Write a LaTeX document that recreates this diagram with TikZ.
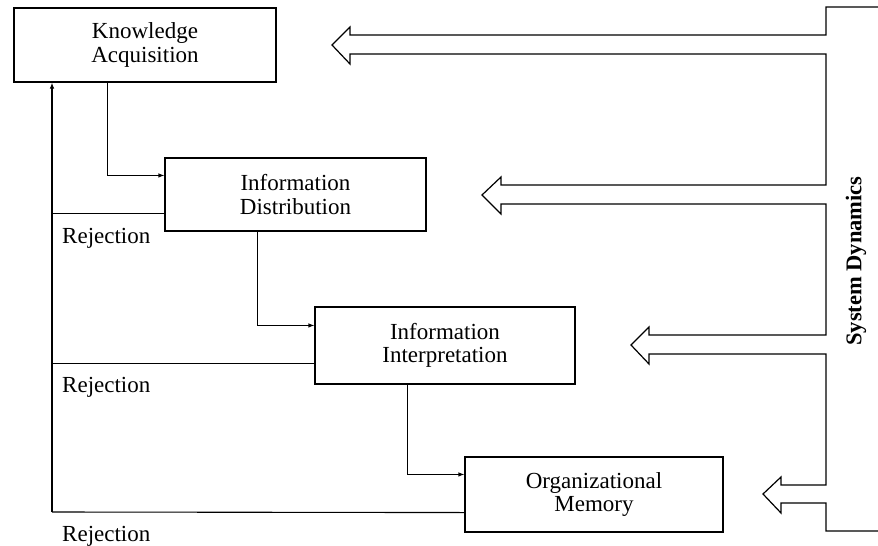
\documentclass[tikz,border=0pt]{standalone}
\usepackage{fontspec}
\setmainfont{Liberation Serif}
\usetikzlibrary{arrows.meta}
\begin{document}
\begin{tikzpicture}[x=1pt,y=-1pt,
  txt/.style={font=\fontsize{23}{23.5}\selectfont},
  box/.style={draw, line width=1.1pt, align=center, inner sep=0pt, txt},
  conn/.style={line width=1.1pt, -{Latex[length=6pt,width=4.5pt]}},
  ln/.style={line width=1.1pt},
  lbl/.style={txt, inner sep=0pt, anchor=base west},
  hollow/.style={line width=1.2pt, line join=miter}]
\useasboundingbox (0,0) rectangle (878,546);
% boxes
\node[box, minimum width=262pt, minimum height=74pt] (K) at (145,45) {Knowledge\\Acquisition};
\node[box, minimum width=261pt, minimum height=73pt] (D) at (295.5,194.5) {Information\\Distribution};
\node[box, minimum width=260pt, minimum height=77pt] (I) at (445,345.5) {Information\\Interpretation};
\node[box, minimum width=258pt, minimum height=75pt] (O) at (594,494.5) {Organizational\\Memory};
% forward connectors
\draw[conn] ([xshift=94pt]K.south west) |- ([yshift=-18pt]D.north west);
\draw[conn] ([xshift=93pt]D.south west) |- ([yshift=-19pt]I.north west);
\draw[conn] ([xshift=93pt]I.south west) |- ([yshift=-18pt]O.north west);
% rejection lines
\coordinate (B) at (52,512);
\coordinate (RD) at ([yshift=18pt]D.south west);
\coordinate (RI) at ([yshift=21pt]I.south west);
\coordinate (RO) at ([yshift=20pt]O.south west);
\draw[ln] (RO) -- (B);
\draw[ln] (RD) -- (B |- RD);
\draw[ln] (RI) -- (B |- RI);
\draw[conn] (B) -- (B |- K.south);
% rejection labels
\node[lbl] (r1) at (62,243) {Rejection};
\node[lbl] (r2) at (62,392) {Rejection};
\node[lbl] (r3) at (62,541) {Rejection};
% system dynamics hollow arrows
\draw[hollow] (878,7) -- (826,7) -- (826,35) -- (350,35) -- (350,27) -- (332,45) -- (350,64) -- (350,54)
  -- (826,54) -- (826,185) -- (501,185) -- (501,177) -- (482,195) -- (501,214) -- (501,204)
  -- (826,204) -- (826,335) -- (649,335) -- (649,327) -- (631,345) -- (649,364) -- (649,354)
  -- (826,354) -- (826,485) -- (781,485) -- (781,477) -- (763,494) -- (781,513) -- (781,503)
  -- (826,503) -- (826,531) -- (878,531);
\node[txt, font=\fontsize{22.5}{23}\selectfont\bfseries, rotate=90, inner sep=0pt] (SD) at (856,261) {System Dynamics};
\end{tikzpicture}
\end{document}
